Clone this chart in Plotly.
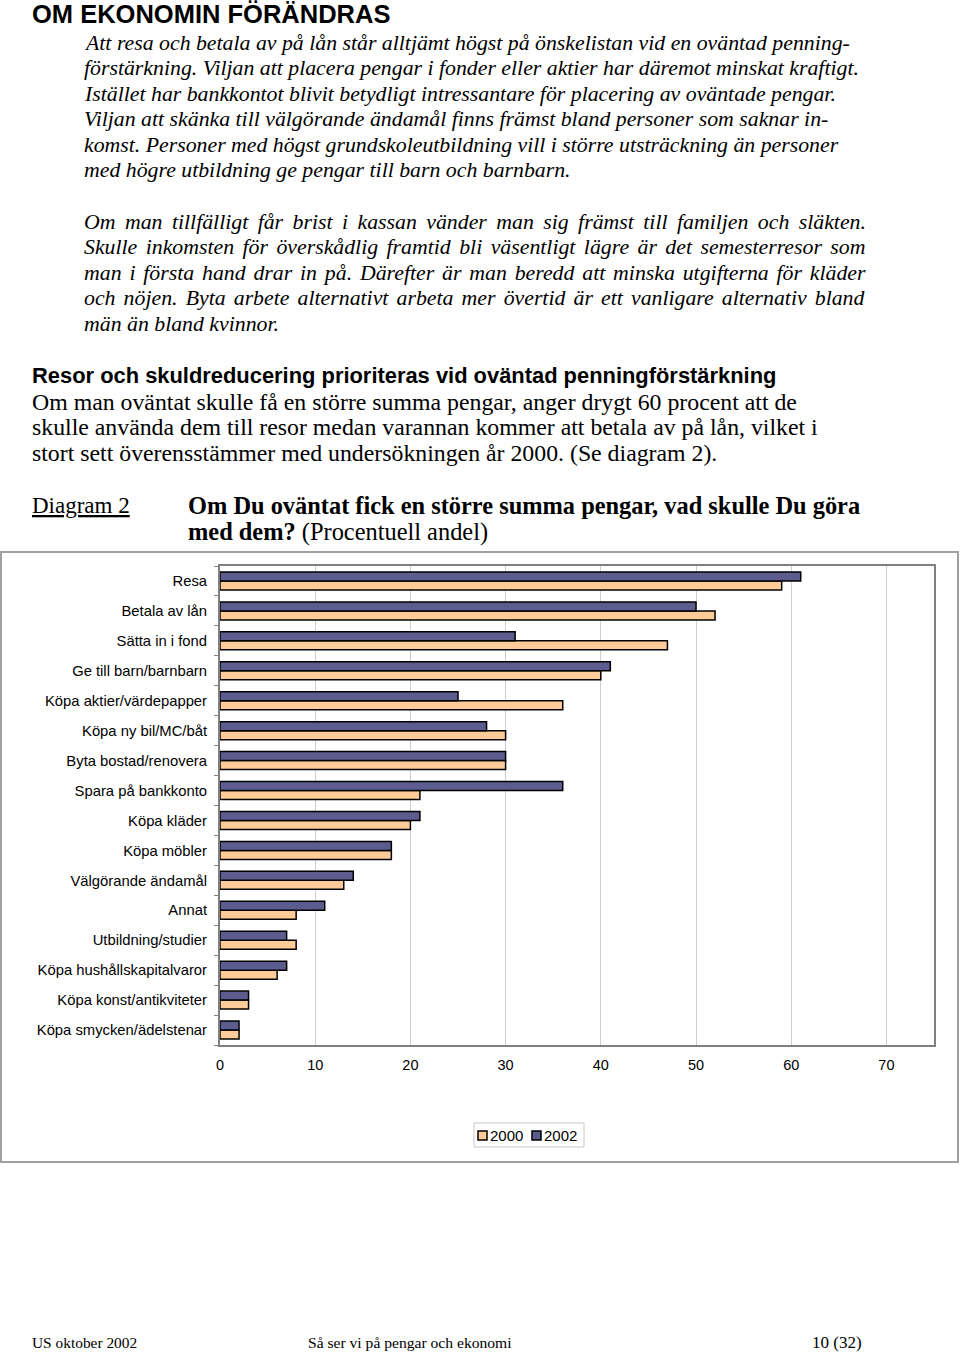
import plotly.graph_objects as go

categories = ["Resa", "Betala av lån", "Sätta in i fond", "Ge till barn/barnbarn",
              "Köpa aktier/värdepapper", "Köpa ny bil/MC/båt", "Byta bostad/renovera",
              "Spara på bankkonto", "Köpa kläder", "Köpa möbler", "Välgörande ändamål",
              "Annat", "Utbildning/studier", "Köpa hushållskapitalvaror",
              "Köpa konst/antikviteter", "Köpa smycken/ädelstenar"]
values_2000 = [59, 52, 47, 40, 36, 30, 30, 21, 20, 18, 13, 8, 8, 6, 3, 2]
values_2002 = [61, 50, 31, 41, 25, 28, 30, 36, 21, 18, 14, 11, 7, 7, 3, 2]
x_ticks = [0, 10, 20, 30, 40, 50, 60, 70]
series_names = ["2000", "2002"]
series_colors = ["#FFCC99", "#5C5C8F"]

W, H = 960, 1352
L, R, T, B = 220, 934, 566, 1045


def px(x):
    return (x - L) / (R - L)


def py(y):
    return (B - y) / (B - T)


fig = go.Figure()
for name, vals, col in zip(series_names, [values_2000, values_2002], series_colors):
    fig.add_trace(go.Bar(name=name, y=categories, x=vals, orientation="h", showlegend=False,
                         marker=dict(color=col, line=dict(color="#000000", width=1.5))))

serif = "Liberation Serif"
sans = "Liberation Sans"

ann = []
shapes = []


def text(x, y, s, size, family=serif, color="#000", **kw):
    ann.append(dict(x=px(x - 2), y=py(y), xref="paper", yref="paper", text=s, showarrow=False,
                    xanchor="left", yanchor="middle", font=dict(family=family, size=size, color=color, **kw)))


text(32, 14, "<b>OM EKONOMIN FÖRÄNDRAS</b>", 25.5, sans)

para1 = ["Att resa och betala av på lån står alltjämt högst på önskelistan vid en oväntad penning-",
         "förstärkning. Viljan att placera pengar i fonder eller aktier har däremot minskat kraftigt.",
         "Istället har bankkontot blivit betydligt intressantare för placering av oväntade pengar.",
         "Viljan att skänka till välgörande ändamål finns främst bland personer som saknar in-",
         "komst. Personer med högst grundskoleutbildning vill i större utsträckning än personer",
         "med högre utbildning ge pengar till barn och barnbarn."]
para1_y = [43, 68, 94, 119, 145, 170]
for s, y in zip(para1, para1_y):
    text(84, y, "<i>" + s + "</i>", 21.8)

para2 = ["Om man tillfälligt får brist i kassan vänder man sig främst till familjen och släkten.",
         "Skulle inkomsten för överskådlig framtid bli väsentligt lägre är det semesterresor som",
         "man i första hand drar in på. Därefter är man beredd att minska utgifterna för kläder",
         "och nöjen. Byta arbete alternativt arbeta mer övertid är ett vanligare alternativ bland",
         "män än bland kvinnor."]
para2_y = [222, 247, 273, 298, 324]
para2_wordspacing = [4.0, 3.0, 2.4, 2.7, 0]
for s, y, ws in zip(para2, para2_y, para2_wordspacing):
    text(84, y, "<i><span style='word-spacing:%.1fpx'>%s</span></i>" % (ws, s), 21.8)

text(32, 375, "<b>Resor och skuldreducering prioriteras vid oväntad penningförstärkning</b>", 21.9, sans)
body = ["Om man oväntat skulle få en större summa pengar, anger drygt 60 procent att de",
        "skulle använda dem till resor medan varannan kommer att betala av på lån, vilket i",
        "stort sett överensstämmer med undersökningen år 2000. (Se diagram 2)."]
for s, y in zip(body, [402, 427, 453]):
    text(32, y, s, 23.8)

text(32, 506, "Diagram 2", 23, lineposition="under")
text(188, 506, "<b>Om Du oväntat fick en större summa pengar, vad skulle Du göra</b>", 24.4)
text(188, 532, "<b>med dem?</b> (Procentuell andel)", 24.4)

text(32, 1342, "US oktober 2002", 15.4)
text(308, 1342, "Så ser vi på pengar och ekonomi", 15.6)
text(812, 1342, "10 (32)", 17)

# chart frame
shapes.append(dict(type="rect", xref="paper", yref="paper", x0=px(1), x1=px(958), y0=py(552), y1=py(1162),
                   line=dict(color="#A0A0A0", width=2), layer="below"))
# legend box with swatches
shapes.append(dict(type="rect", xref="paper", yref="paper", x0=px(474), x1=px(584), y0=py(1123), y1=py(1147),
                   line=dict(color="#C8C8C8", width=1), fillcolor="white", layer="below"))
for i, (name, col) in enumerate(zip(series_names, series_colors)):
    x0 = 478 + i * 54
    shapes.append(dict(type="rect", xref="paper", yref="paper", x0=px(x0), x1=px(x0 + 9),
                       y0=py(1140), y1=py(1131), fillcolor=col, line=dict(color="#000", width=1.5)))
    ann.append(dict(x=px(x0 + 11), y=py(1135.5), xref="paper", yref="paper", text=name, showarrow=False,
                    xanchor="left", yanchor="middle", borderpad=0,
                    font=dict(family=sans, size=15, color="#000")))

fig.update_layout(
    width=W, height=H,
    margin=dict(l=L, r=W - R, t=T, b=H - B),
    paper_bgcolor="white", plot_bgcolor="white",
    barmode="group", bargap=0.4, bargroupgap=0,
    font=dict(family="Liberation Sans, Arial", size=14, color="#000"),
    showlegend=False,
    annotations=ann,
    shapes=shapes,
    xaxis=dict(range=[0, 75], tickvals=x_ticks, showgrid=True, gridcolor="#CFCFCF", gridwidth=1,
               zeroline=False, showline=True, linecolor="#808080", linewidth=2, mirror=True,
               ticks="", ticklabelstandoff=6, tickfont=dict(size=14.5, family=sans)),
    yaxis=dict(categoryorder="array", categoryarray=categories[::-1], tickson="boundaries",
               ticks="outside", ticklen=4, tickcolor="#808080", showgrid=False,
               showline=True, linecolor="#808080", linewidth=2, mirror=True,
               ticklabelstandoff=8, tickfont=dict(size=14.8, family=sans)),
)

fig.write_html("out.html", post_script="document.body.style.margin='0';",
               config={"displayModeBar": False})
